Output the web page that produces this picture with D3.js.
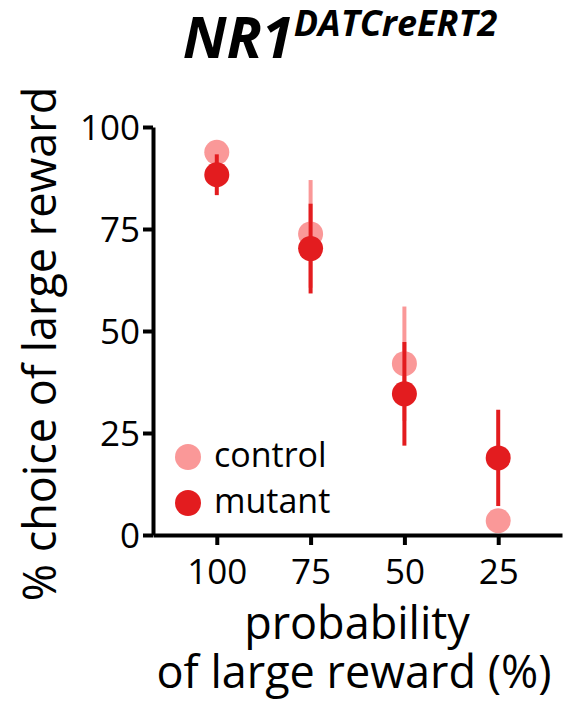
<!DOCTYPE html>
<html>
<head>
<meta charset="utf-8">
<script src="https://cdn.jsdelivr.net/npm/d3@7"></script>
<style>
  body { margin: 0; background: #fff; }
  text { font-family: "Open Sans", sans-serif; fill: #000; }
</style>
</head>
<body>
<svg id="chart"></svg>
<script>
var probs = ['100', '75', '50', '25'];
var controlMean = [93.8, 73.8, 42.0, 3.5];
var controlErr = [2.0, 13.2, 14.0, 2.0];
var mutantMean = [88.3, 70.2, 34.6, 18.9];
var mutantErr = [5.0, 11.0, 12.7, 11.8];
var yTicks = [0, 25, 50, 75, 100];

var series = [
  { name: 'control', color: '#fa9898', mean: controlMean, err: controlErr },
  { name: 'mutant', color: '#e31c1f', mean: mutantMean, err: mutantErr }
];

var svg = d3.select('#chart')
            .attr('width', 565)
            .attr('height', 703);

var x = d3.scalePoint()
          .domain(probs)
          .range([153, 562])
          .padding(0.68);

var y = d3.scaleLinear()
          .domain([0, 100])
          .range([535, 127]);

var xAxis = d3.axisBottom(x)
              .tickSize(10)
              .tickSizeOuter(0)
              .tickPadding(14);

var yAxis = d3.axisLeft(y)
              .tickValues(yTicks)
              .tickSize(10)
              .tickSizeOuter(0)
              .tickPadding(3);

var gx = svg.append('g')
            .attr('transform', 'translate(0,535)')
            .call(xAxis);

var gy = svg.append('g')
            .attr('transform', 'translate(153,0)')
            .call(yAxis);

[gx, gy].forEach(function (g) {
  g.select('.domain').attr('stroke', '#000').attr('stroke-width', 4);
  g.selectAll('.tick line').attr('stroke', '#000').attr('stroke-width', 4);
  g.selectAll('.tick text')
   .style('font-family', '"Open Sans", sans-serif')
   .style('font-size', '35px')
   .attr('fill', '#000');
});
gy.selectAll('.tick text').attr('dy', '0.36em');
gx.selectAll('.tick text').attr('dy', '0.71em');

// error bars then dots, control first so mutant sits on top
series.forEach(function (s) {
  var g = svg.append('g').attr('class', s.name);
  g.selectAll('line')
   .data(probs)
   .join('line')
   .attr('x1', function (d) { return x(d); })
   .attr('x2', function (d) { return x(d); })
   .attr('y1', function (d, i) { return y(s.mean[i] + s.err[i]); })
   .attr('y2', function (d, i) { return y(s.mean[i] - s.err[i]); })
   .attr('stroke', s.color)
   .attr('stroke-width', 4);
  g.selectAll('circle')
   .data(probs)
   .join('circle')
   .attr('cx', function (d) { return x(d); })
   .attr('cy', function (d, i) { return y(s.mean[i]); })
   .attr('r', 12.5)
   .attr('fill', s.color);
});

// legend
var legend = svg.append('g').attr('transform', 'translate(188,457)');
legend.selectAll('circle')
      .data(series)
      .join('circle')
      .attr('cx', 0)
      .attr('cy', function (d, i) { return i * 46; })
      .attr('r', 13)
      .attr('fill', function (d) { return d.color; });
legend.selectAll('text')
      .data(series)
      .join('text')
      .attr('x', 26)
      .attr('y', function (d, i) { return i * 46; })
      .attr('dy', '0.3em')
      .style('font-size', '34px')
      .text(function (d) { return d.name; });

// axis titles
svg.append('text')
   .attr('transform', 'translate(56,344) rotate(-90)')
   .attr('text-anchor', 'middle')
   .style('font-size', '45px')
   .text('% choice of large reward');

svg.append('text')
   .attr('x', 357)
   .attr('y', 639)
   .attr('text-anchor', 'middle')
   .style('font-size', '45px')
   .text('probability');

svg.append('text')
   .attr('x', 354)
   .attr('y', 688)
   .attr('text-anchor', 'middle')
   .style('font-size', '45px')
   .text('of large reward (%)');

// title
var title = svg.append('text')
   .attr('x', 340)
   .attr('y', 58)
   .attr('text-anchor', 'middle')
   .style('font-weight', 'bold')
   .style('font-style', 'italic');
title.append('tspan')
     .style('font-size', '58px')
     .text('NR1');
title.append('tspan')
     .attr('dy', -22)
     .style('font-size', '36px')
     .text('DATCreERT2');
</script>
</body>
</html>
